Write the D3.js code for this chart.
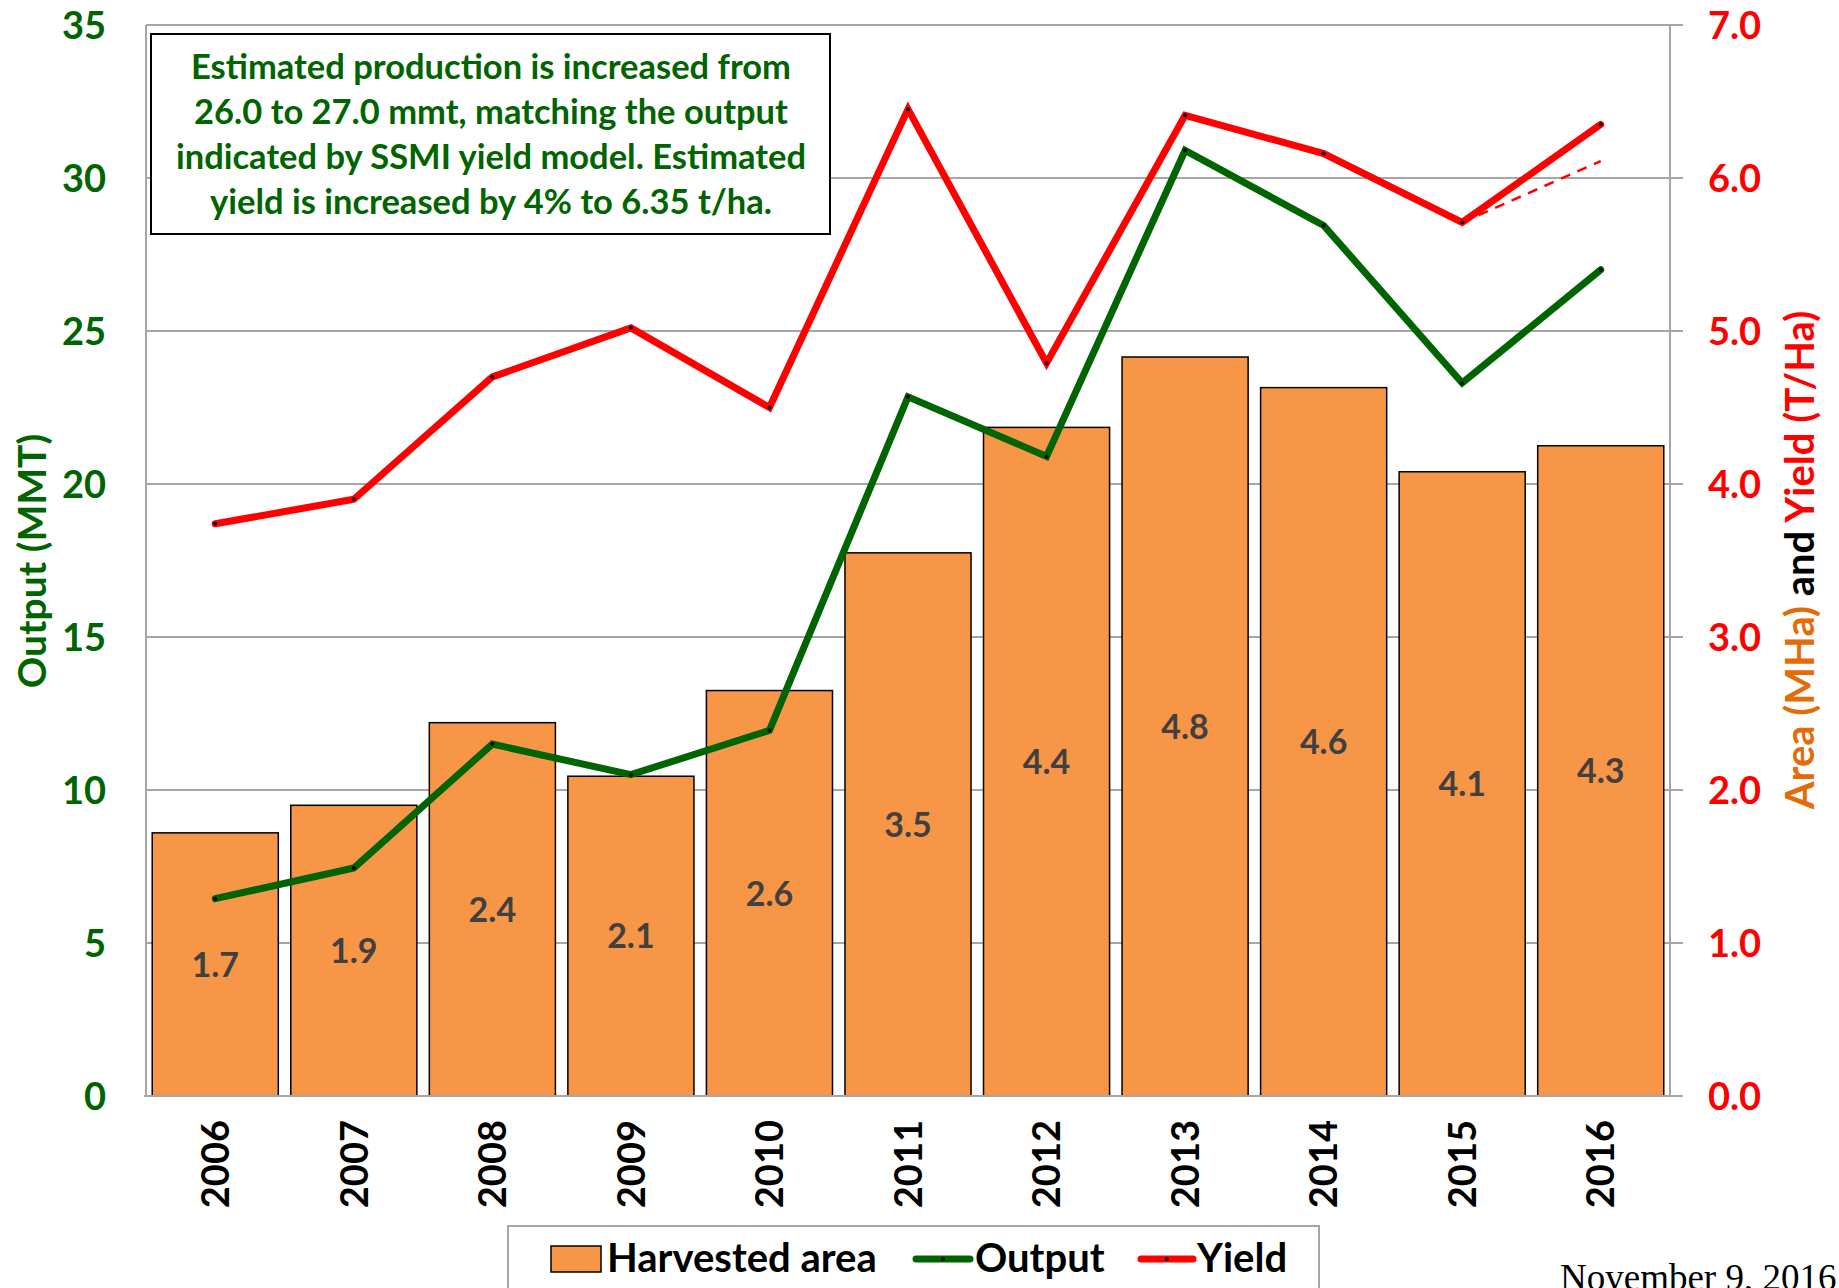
<!DOCTYPE html>
<html>
<head>
<meta charset="utf-8">
<script src="https://cdn.jsdelivr.net/npm/d3@7"></script>
<style>
  body { margin: 0; background: #fff; }
  svg { display: block; font-family: Lato, "Open Sans", sans-serif; font-weight: bold; }
</style>
</head>
<body>
<svg id="chart" width="1839" height="1288"></svg>
<script>
// values
const years = ["2006", "2007", "2008", "2009", "2010", "2011", "2012", "2013", "2014", "2015", "2016"];
const areaMha = [1.72, 1.9, 2.44, 2.09, 2.65, 3.55, 4.37, 4.83, 4.63, 4.08, 4.25];
const areaLabels = ["1.7", "1.9", "2.4", "2.1", "2.6", "3.5", "4.4", "4.8", "4.6", "4.1", "4.3"];
const outputMmt = [6.45, 7.45, 11.5, 10.5, 11.95, 22.85, 20.9, 30.9, 28.45, 23.3, 27.0];
const yieldTha = [3.74, 3.9, 4.7, 5.02, 4.5, 6.45, 4.79, 6.41, 6.16, 5.71, 6.35];
// previous estimate for 2016 (dashed)
const oldYield = [{ year: "2015", v: 5.71 }, { year: "2016", v: 6.11 }];
const leftTicks = [0, 5, 10, 15, 20, 25, 30, 35];
const rightTicks = [0, 1, 2, 3, 4, 5, 6, 7];
const noteLines = [
  "Estimated production is increased from",
  "26.0 to 27.0 mmt, matching the output",
  "indicated by SSMI yield model. Estimated",
  "yield is increased by 4% to 6.35 t/ha."
];

const green = "#006400", red = "#FF0000", orange = "#F79646", grid = "#A6A6A6";
const plotL = 146, plotR = 1670, plotT = 25, plotB = 1096;

const svg = d3.select("#chart");

const x = d3.scaleBand().domain(years).range([plotL, plotR]).paddingInner(0.09).paddingOuter(0.045);
const yL = d3.scaleLinear().domain([0, 35]).range([plotB, plotT]);
const yR = d3.scaleLinear().domain([0, 7]).range([plotB, plotT]);

// gridlines
svg.append("g")
  .selectAll("line")
  .data(leftTicks.slice(1))
  .join("line")
  .attr("x1", plotL).attr("x2", plotR + 13)
  .attr("y1", d => yL(d)).attr("y2", d => yL(d))
  .attr("stroke", grid).attr("stroke-width", 2);

// bars
const bars = svg.append("g");
bars.selectAll("rect")
  .data(years)
  .join("rect")
  .attr("x", d => x(d))
  .attr("width", x.bandwidth())
  .attr("y", (d, i) => yR(areaMha[i]))
  .attr("height", (d, i) => plotB - yR(areaMha[i]))
  .attr("fill", orange)
  .attr("stroke", "#000").attr("stroke-width", 1.5);

bars.selectAll("text")
  .data(years)
  .join("text")
  .attr("x", d => x(d) + x.bandwidth() / 2)
  .attr("y", (d, i) => (yR(areaMha[i]) + plotB) / 2)
  .attr("dy", "0.36em")
  .attr("text-anchor", "middle")
  .attr("font-size", 34)
  .attr("fill", "#404040")
  .text((d, i) => areaLabels[i]);

// axis lines
svg.append("line").attr("x1", plotL).attr("x2", plotL).attr("y1", plotT).attr("y2", plotB)
  .attr("stroke", grid).attr("stroke-width", 2);
svg.append("line").attr("x1", plotR).attr("x2", plotR).attr("y1", plotT).attr("y2", plotB)
  .attr("stroke", grid).attr("stroke-width", 2);
svg.append("line").attr("x1", plotL - 2).attr("x2", plotR + 13).attr("y1", plotB).attr("y2", plotB)
  .attr("stroke", grid).attr("stroke-width", 2);

// tick labels
svg.append("g").selectAll("text")
  .data(leftTicks)
  .join("text")
  .attr("x", 106).attr("y", d => yL(d)).attr("dy", "0.36em")
  .attr("text-anchor", "end").attr("font-size", 38).attr("fill", green)
  .text(d => d);

svg.append("g").selectAll("text")
  .data(rightTicks)
  .join("text")
  .attr("x", 1708).attr("y", d => yR(d)).attr("dy", "0.36em")
  .attr("text-anchor", "start").attr("font-size", 38).attr("fill", red)
  .text(d => d3.format(".1f")(d));

svg.append("g").selectAll("text")
  .data(years)
  .join("text")
  .attr("transform", d => `translate(${x(d) + x.bandwidth() / 2},1120) rotate(-90)`)
  .attr("dy", "0.36em")
  .attr("text-anchor", "end").attr("font-size", 38).attr("fill", "#000")
  .text(d => d);

// axis titles
svg.append("text")
  .attr("transform", "translate(32,561) rotate(-90)")
  .attr("dy", "0.36em").attr("text-anchor", "middle")
  .attr("font-size", 39).attr("fill", green)
  .text("Output (MMT)");

const rt = svg.append("text")
  .attr("transform", "translate(1800,560) rotate(-90)")
  .attr("dy", "0.36em").attr("text-anchor", "middle")
  .attr("font-size", 40);
rt.append("tspan").attr("fill", "#E36C09").text("Area (MHa) ");
rt.append("tspan").attr("fill", "#000").text("and ");
rt.append("tspan").attr("fill", red).text("Yield (T/Ha)");

// lines
const lineL = d3.line().x(d => x(d.year) + x.bandwidth() / 2).y(d => yL(d.v));
const lineR = d3.line().x(d => x(d.year) + x.bandwidth() / 2).y(d => yR(d.v));
const outPts = years.map((y, i) => ({ year: y, v: outputMmt[i] }));
const yldPts = years.map((y, i) => ({ year: y, v: yieldTha[i] }));

svg.append("path").datum(oldYield).attr("d", lineR)
  .attr("fill", "none").attr("stroke", red).attr("stroke-width", 2.5)
  .attr("stroke-dasharray", "10,8");

svg.append("path").datum(outPts).attr("d", lineL)
  .attr("fill", "none").attr("stroke", green).attr("stroke-width", 7)
  .attr("stroke-linecap", "round");
svg.append("path").datum(yldPts).attr("d", lineR)
  .attr("fill", "none").attr("stroke", red).attr("stroke-width", 7)
  .attr("stroke-linecap", "round");

svg.append("g").selectAll("circle").data(outPts).join("circle")
  .attr("cx", d => x(d.year) + x.bandwidth() / 2).attr("cy", d => yL(d.v))
  .attr("r", 2).attr("fill", "#000");
svg.append("g").selectAll("circle").data(yldPts).join("circle")
  .attr("cx", d => x(d.year) + x.bandwidth() / 2).attr("cy", d => yR(d.v))
  .attr("r", 2).attr("fill", "#000");

// note box
svg.append("rect")
  .attr("x", 151).attr("y", 34).attr("width", 679).attr("height", 200)
  .attr("fill", "#fff").attr("stroke", "#000").attr("stroke-width", 2);
svg.append("g").selectAll("text").data(noteLines).join("text")
  .attr("x", 491).attr("y", (d, i) => 67 + i * 45).attr("dy", "0.36em")
  .attr("text-anchor", "middle").attr("font-size", 34.5).attr("fill", green)
  .text(d => d);

// legend
const lg = svg.append("g");
lg.append("rect").attr("x", 508).attr("y", 1226).attr("width", 811).attr("height", 80)
  .attr("fill", "#fff").attr("stroke", grid).attr("stroke-width", 2);
lg.append("rect").attr("x", 551).attr("y", 1246).attr("width", 50).attr("height", 26)
  .attr("fill", orange).attr("stroke", "#000").attr("stroke-width", 1.5);
lg.append("text").attr("x", 607).attr("y", 1258).attr("dy", "0.36em")
  .attr("font-size", 40).text("Harvested area");
lg.append("line").attr("x1", 916).attr("x2", 970).attr("y1", 1259).attr("y2", 1259)
  .attr("stroke", green).attr("stroke-width", 7).attr("stroke-linecap", "round");
lg.append("circle").attr("cx", 943).attr("cy", 1259).attr("r", 2).attr("fill", "#000");
lg.append("text").attr("x", 975).attr("y", 1258).attr("dy", "0.36em")
  .attr("font-size", 40).text("Output");
lg.append("line").attr("x1", 1141).attr("x2", 1193).attr("y1", 1259).attr("y2", 1259)
  .attr("stroke", red).attr("stroke-width", 7).attr("stroke-linecap", "round");
lg.append("circle").attr("cx", 1167).attr("cy", 1259).attr("r", 2).attr("fill", "#000");
lg.append("text").attr("x", 1197).attr("y", 1258).attr("dy", "0.36em")
  .attr("font-size", 40).text("Yield");

// date
svg.append("text").attr("x", 1560).attr("y", 1290)
  .attr("font-family", "'Liberation Serif', 'Times New Roman', serif")
  .attr("font-weight", "normal").attr("font-size", 37).attr("fill", "#000")
  .text("November 9, 2016");
</script>
</body>
</html>
